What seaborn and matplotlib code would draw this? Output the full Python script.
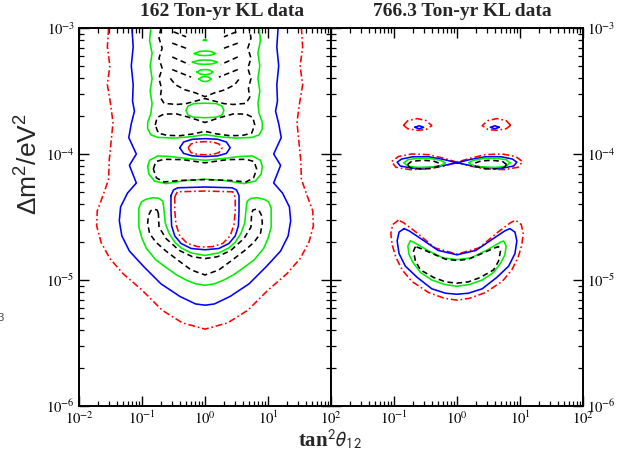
import numpy as np
import matplotlib
matplotlib.use("Agg")
import matplotlib.pyplot as plt
import seaborn as sns
from matplotlib.ticker import LogLocator, FuncFormatter, NullFormatter

# ---------------- data: contour vertices ----------------
# each point is (log10 tan^2(theta12), log10 dm^2 [eV^2])

TITLES = ["162 Ton-yr KL data", "766.3 Ton-yr KL data"]
X_LABEL = r"tan$^2\theta_{12}$"
Y_LABEL = r"$\Delta\mathrm{m}^2/\mathrm{eV}^2$"

# ---- left panel (162 Ton-yr) ----
L_RED_OUTER = [(-1.53, -3.00), (-1.55, -3.15), (-1.51, -3.30), (-1.55, -3.45), (-1.50, -3.60),
               (-1.46, -3.75), (-1.49, -3.90), (-1.52, -4.05), (-1.53, -4.20), (-1.62, -4.33),
               (-1.71, -4.45), (-1.72, -4.57), (-1.65, -4.70), (-1.51, -4.83), (-1.30, -4.95),
               (-1.00, -5.08), (-0.68, -5.24), (-0.36, -5.34), (0.00, -5.39), (0.36, -5.34),
               (0.68, -5.24), (1.00, -5.08), (1.30, -4.95), (1.51, -4.83), (1.65, -4.70),
               (1.72, -4.57), (1.71, -4.45), (1.62, -4.33), (1.53, -4.20), (1.52, -4.05),
               (1.49, -3.90), (1.46, -3.75), (1.50, -3.60), (1.55, -3.45), (1.51, -3.30),
               (1.55, -3.15), (1.53, -3.00)]
L_BLUE_OUTER = [(-1.16, -3.00), (-1.14, -3.15), (-1.17, -3.30), (-1.14, -3.45), (-1.15, -3.58),
                (-1.12, -3.66), (-1.17, -3.76), (-1.21, -3.87), (-1.09, -4.00), (-1.20, -4.09),
                (-1.09, -4.23), (-1.23, -4.31), (-1.34, -4.42), (-1.36, -4.53), (-1.32, -4.65),
                (-1.20, -4.77), (-0.98, -4.89), (-0.70, -5.03), (-0.40, -5.13), (-0.15, -5.19),
                (0.00, -5.20), (0.15, -5.19), (0.40, -5.13), (0.70, -5.03), (0.98, -4.89),
                (1.20, -4.77), (1.32, -4.65), (1.36, -4.53), (1.34, -4.42), (1.23, -4.31),
                (1.09, -4.23), (1.20, -4.09), (1.09, -4.00), (1.21, -3.87), (1.17, -3.76),
                (1.12, -3.66), (1.15, -3.58), (1.14, -3.45), (1.17, -3.30), (1.14, -3.15),
                (1.16, -3.00)]
L_BLUE_SMALL = [(-0.40, -3.95), (-0.34, -3.905), (-0.20, -3.883), (0.00, -3.878), (0.20, -3.883),
                (0.34, -3.905), (0.40, -3.95), (0.34, -3.995), (0.20, -4.015), (0.00, -4.02),
                (-0.20, -4.015), (-0.34, -3.995), (-0.40, -3.95)]
L_RED_SMALL = [(-0.27, -3.952), (-0.22, -3.92), (-0.12, -3.905), (0.00, -3.902), (0.12, -3.905),
               (0.22, -3.92), (0.27, -3.952), (0.22, -3.99), (0.12, -4.003), (0.00, -4.006),
               (-0.12, -4.003), (-0.22, -3.99), (-0.27, -3.952)]
L_BLUE_BIG = [(-0.54, -4.33), (-0.54, -4.45), (-0.53, -4.57), (-0.48, -4.65), (-0.38, -4.71),
              (-0.22, -4.75), (0.00, -4.76), (0.22, -4.75), (0.38, -4.71), (0.48, -4.65),
              (0.53, -4.57), (0.54, -4.45), (0.54, -4.33), (0.50, -4.285), (0.43, -4.268),
              (0.00, -4.262), (-0.43, -4.268), (-0.50, -4.285), (-0.54, -4.33)]
L_RED_BIG = [(-0.48, -4.34), (-0.48, -4.45), (-0.46, -4.56), (-0.40, -4.65), (-0.28, -4.71),
             (-0.12, -4.735), (0.00, -4.738), (0.12, -4.735), (0.28, -4.71), (0.40, -4.65),
             (0.46, -4.56), (0.48, -4.45), (0.48, -4.34), (0.44, -4.30), (0.00, -4.294),
             (-0.44, -4.30), (-0.48, -4.34)]
L_GREEN_OUTER = [(-0.86, -3.00), (-0.88, -3.10), (-0.84, -3.20), (-0.87, -3.30), (-0.84, -3.40),
                 (-0.87, -3.50), (-0.84, -3.60), (-0.86, -3.68), (-0.91, -3.75), (-0.91, -3.80),
                 (-0.86, -3.848), (-0.75, -3.868), (-0.50, -3.874), (-0.25, -3.864), (0.00, -3.847),
                 (0.25, -3.864), (0.50, -3.874), (0.75, -3.868), (0.86, -3.848), (0.91, -3.80),
                 (0.91, -3.75), (0.86, -3.68), (0.84, -3.60), (0.87, -3.50), (0.84, -3.40),
                 (0.87, -3.30), (0.84, -3.20), (0.88, -3.10), (0.86, -3.00)]
L_GREEN_MID = [(-0.30, -3.655), (-0.27, -3.62), (-0.18, -3.60), (0.00, -3.597), (0.18, -3.60),
               (0.27, -3.62), (0.30, -3.655), (0.27, -3.69), (0.18, -3.708), (0.00, -3.712),
               (-0.18, -3.708), (-0.27, -3.69), (-0.30, -3.655)]
L_GREEN_ISL1 = [(-0.025, -3.097), (0.00, -3.093), (0.025, -3.097), (0.00, -3.101), (-0.025, -3.097)]
L_GREEN_ISL2 = [(-0.17, -3.203), (-0.09, -3.186), (0.00, -3.183), (0.09, -3.186), (0.17, -3.203),
                (0.09, -3.216), (0.00, -3.219), (-0.09, -3.216), (-0.17, -3.203)]
L_GREEN_ISL3 = [(-0.20, -3.272), (-0.10, -3.256), (0.00, -3.254), (0.10, -3.256), (0.20, -3.272),
                (0.10, -3.286), (0.00, -3.288), (-0.10, -3.286), (-0.20, -3.272)]
L_GREEN_ISL4 = [(-0.13, -3.35), (-0.07, -3.333), (0.00, -3.33), (0.07, -3.333), (0.13, -3.35),
                (0.07, -3.366), (0.00, -3.37), (-0.07, -3.366), (-0.13, -3.35)]
L_GREEN_ISL5 = [(-0.10, -3.405), (-0.05, -3.389), (0.00, -3.386), (0.05, -3.389), (0.10, -3.405),
                (0.05, -3.421), (0.00, -3.425), (-0.05, -3.421), (-0.10, -3.405)]
L_GREEN_PEANUT = [(-0.91, -4.10), (-0.88, -4.05), (-0.75, -4.015), (-0.55, -4.02), (-0.30, -4.035),
                  (0.00, -4.05), (0.30, -4.035), (0.55, -4.02), (0.75, -4.015), (0.88, -4.05),
                  (0.91, -4.10), (0.89, -4.16), (0.80, -4.215), (0.62, -4.235), (0.30, -4.21),
                  (0.00, -4.20), (-0.30, -4.21), (-0.62, -4.235), (-0.80, -4.215), (-0.89, -4.16),
                  (-0.91, -4.10)]
L_BLACK_PEANUT = [(-0.82, -4.12), (-0.78, -4.06), (-0.65, -4.042), (-0.35, -4.045), (0.00, -4.07),
                  (0.35, -4.045), (0.65, -4.042), (0.78, -4.06), (0.82, -4.12), (0.77, -4.19),
                  (0.65, -4.222), (0.40, -4.21), (0.00, -4.203), (-0.40, -4.21), (-0.65, -4.222),
                  (-0.77, -4.19), (-0.82, -4.12)]
L_GREEN_HORSESHOE = [(-0.66, -4.40), (-0.67, -4.375), (-0.73, -4.352), (-0.83, -4.347), (-0.94, -4.36),
                     (-1.01, -4.38), (-1.05, -4.43), (-1.05, -4.50), (-1.05, -4.58), (-1.00, -4.67),
                     (-0.93, -4.75), (-0.78, -4.84), (-0.62, -4.90), (-0.45, -4.96), (-0.30, -5.00),
                     (-0.15, -5.03), (0.00, -5.042), (0.15, -5.03), (0.30, -5.00), (0.45, -4.96),
                     (0.62, -4.90), (0.78, -4.84), (0.93, -4.75), (1.00, -4.67), (1.05, -4.58),
                     (1.05, -4.50), (1.05, -4.43), (1.01, -4.38), (0.94, -4.36), (0.83, -4.347),
                     (0.73, -4.352), (0.67, -4.375), (0.66, -4.40), (0.65, -4.45), (0.63, -4.55),
                     (0.57, -4.63), (0.48, -4.70), (0.38, -4.745), (0.22, -4.785), (0.00, -4.805),
                     (-0.22, -4.785), (-0.38, -4.745), (-0.48, -4.70), (-0.57, -4.63), (-0.63, -4.55),
                     (-0.65, -4.45), (-0.66, -4.40)]
L_BLACK_HORSESHOE = [(-0.74, -4.47), (-0.76, -4.445), (-0.81, -4.438), (-0.86, -4.45), (-0.90, -4.49),
                     (-0.91, -4.55), (-0.88, -4.63), (-0.78, -4.70), (-0.62, -4.77), (-0.41, -4.85),
                     (-0.22, -4.92), (0.00, -4.96), (0.22, -4.92), (0.41, -4.85), (0.62, -4.77),
                     (0.78, -4.70), (0.88, -4.63), (0.91, -4.55), (0.90, -4.49), (0.86, -4.45),
                     (0.81, -4.438), (0.76, -4.445), (0.74, -4.47), (0.73, -4.58), (0.62, -4.67),
                     (0.41, -4.765), (0.20, -4.815), (0.00, -4.83), (-0.20, -4.815), (-0.41, -4.765),
                     (-0.62, -4.67), (-0.73, -4.58), (-0.74, -4.47)]
L_BLACK_UPPER_U = [(-0.70, -3.00), (-0.73, -3.08), (-0.68, -3.16), (-0.73, -3.24), (-0.68, -3.32),
                   (-0.73, -3.40), (-0.69, -3.48), (-0.71, -3.55), (-0.65, -3.598), (-0.45, -3.607),
                   (-0.30, -3.600), (-0.15, -3.58), (0.00, -3.56), (0.15, -3.58), (0.30, -3.600),
                   (0.45, -3.607), (0.65, -3.598), (0.71, -3.55), (0.69, -3.48), (0.73, -3.40),
                   (0.68, -3.32), (0.73, -3.24), (0.68, -3.16), (0.73, -3.08), (0.70, -3.00)]
L_BLACK_BOWL = [(-0.55, -3.40), (-0.47, -3.45), (-0.32, -3.49), (-0.15, -3.515), (0.00, -3.545),
                (0.15, -3.515), (0.32, -3.49), (0.47, -3.45), (0.55, -3.40)]
L_BLACK_DIAG_L = [[(-0.50, -3.03), (-0.30, -3.07)], [(-0.52, -3.12), (-0.25, -3.17)],
                  [(-0.52, -3.23), (-0.25, -3.29)], [(-0.52, -3.33), (-0.22, -3.39)]]
L_BLACK_DIAG_R = [[(0.50, -3.03), (0.30, -3.07)], [(0.52, -3.12), (0.25, -3.17)],
                  [(0.52, -3.23), (0.25, -3.29)], [(0.52, -3.33), (0.22, -3.39)]]
L_BLACK_MIDPEANUT = [(-0.79, -3.77), (-0.76, -3.71), (-0.65, -3.683), (-0.45, -3.682), (-0.28, -3.705),
                     (-0.15, -3.725), (0.00, -3.75), (0.15, -3.725), (0.28, -3.705), (0.45, -3.682),
                     (0.65, -3.683), (0.76, -3.71), (0.79, -3.77), (0.74, -3.835), (0.60, -3.852),
                     (0.40, -3.855), (0.18, -3.84), (0.00, -3.82), (-0.18, -3.84), (-0.40, -3.855),
                     (-0.60, -3.852), (-0.74, -3.835), (-0.79, -3.77)]

# ---- right panel (766.3 Ton-yr) ----
R_RED_ISL_L = [(-0.85, -3.772), (-0.78, -3.735), (-0.63, -3.719), (-0.49, -3.735), (-0.40, -3.775),
               (-0.49, -3.805), (-0.62, -3.812), (-0.78, -3.80), (-0.85, -3.772)]
R_RED_ISL_R = [(0.85, -3.772), (0.78, -3.735), (0.63, -3.719), (0.49, -3.735), (0.40, -3.775),
               (0.49, -3.805), (0.62, -3.812), (0.78, -3.80), (0.85, -3.772)]
R_BLUE_ISL_L = [(-0.67, -3.788), (-0.60, -3.776), (-0.53, -3.788), (-0.60, -3.80), (-0.67, -3.788)]
R_BLUE_ISL_R = [(0.67, -3.788), (0.60, -3.776), (0.53, -3.788), (0.60, -3.80), (0.67, -3.788)]
R_BLUE_FIG8 = [(0.00, -4.07), (-0.20, -4.045), (-0.45, -4.022), (-0.70, -4.022), (-0.88, -4.04),
               (-0.95, -4.065), (-0.90, -4.095), (-0.72, -4.112), (-0.45, -4.108), (-0.20, -4.09),
               (0.00, -4.07), (0.20, -4.045), (0.45, -4.022), (0.70, -4.022), (0.88, -4.04),
               (0.95, -4.065), (0.90, -4.095), (0.72, -4.112), (0.45, -4.108), (0.20, -4.09),
               (0.00, -4.07)]
R_RED_FIG8 = [(0.00, -4.065), (-0.20, -4.035), (-0.45, -4.005), (-0.72, -4.00), (-0.93, -4.02),
              (-1.04, -4.06), (-0.97, -4.105), (-0.75, -4.124), (-0.45, -4.118), (-0.20, -4.095),
              (0.00, -4.065), (0.20, -4.035), (0.45, -4.005), (0.72, -4.00), (0.93, -4.02),
              (1.04, -4.06), (0.97, -4.105), (0.75, -4.124), (0.45, -4.118), (0.20, -4.095),
              (0.00, -4.065)]
R_GREEN_LOBE_L = [(-0.84, -4.07), (-0.78, -4.045), (-0.62, -4.034), (-0.42, -4.036), (-0.26, -4.05),
                  (-0.185, -4.07), (-0.26, -4.092), (-0.42, -4.104), (-0.62, -4.106), (-0.78, -4.097),
                  (-0.84, -4.07)]
R_GREEN_LOBE_R = [(0.84, -4.07), (0.78, -4.045), (0.62, -4.034), (0.42, -4.036), (0.26, -4.05),
                  (0.185, -4.07), (0.26, -4.092), (0.42, -4.104), (0.62, -4.106), (0.78, -4.097),
                  (0.84, -4.07)]
R_BLACK_LOBE_L = [(-0.79, -4.085), (-0.72, -4.058), (-0.55, -4.05), (-0.38, -4.055), (-0.27, -4.075),
                  (-0.30, -4.10), (-0.45, -4.116), (-0.62, -4.118), (-0.75, -4.106), (-0.79, -4.085)]
R_BLACK_LOBE_R = [(0.79, -4.085), (0.72, -4.058), (0.55, -4.05), (0.38, -4.055), (0.27, -4.075),
                  (0.30, -4.10), (0.45, -4.116), (0.62, -4.118), (0.75, -4.106), (0.79, -4.085)]
R_RED_BANANA = [(-0.93, -4.525), (-1.02, -4.56), (-1.05, -4.63), (-1.03, -4.72), (-0.97, -4.82),
                (-0.87, -4.92), (-0.72, -5.01), (-0.45, -5.10), (-0.20, -5.145), (0.00, -5.16),
                (0.20, -5.145), (0.45, -5.10), (0.72, -5.01), (0.87, -4.92), (0.97, -4.82),
                (1.03, -4.72), (1.05, -4.63), (1.02, -4.56), (0.93, -4.525), (0.85, -4.545),
                (0.65, -4.62), (0.35, -4.745), (0.00, -4.795), (-0.35, -4.745), (-0.65, -4.62),
                (-0.85, -4.545), (-0.93, -4.525)]
R_BLUE_BANANA = [(-0.84, -4.592), (-0.92, -4.62), (-0.95, -4.69), (-0.92, -4.79), (-0.82, -4.89),
                 (-0.63, -4.98), (-0.40, -5.07), (-0.18, -5.105), (0.00, -5.113), (0.18, -5.105),
                 (0.40, -5.07), (0.63, -4.98), (0.82, -4.89), (0.92, -4.79), (0.95, -4.69),
                 (0.92, -4.62), (0.84, -4.592), (0.76, -4.61), (0.55, -4.68), (0.30, -4.765),
                 (0.00, -4.80), (-0.30, -4.765), (-0.55, -4.68), (-0.76, -4.61), (-0.84, -4.592)]
R_GREEN_BANANA = [(-0.74, -4.69), (-0.78, -4.73), (-0.76, -4.80), (-0.70, -4.86), (-0.58, -4.94),
                  (-0.40, -5.00), (-0.20, -5.035), (0.00, -5.05), (0.20, -5.035), (0.40, -5.00),
                  (0.58, -4.94), (0.70, -4.86), (0.76, -4.80), (0.78, -4.73), (0.74, -4.69),
                  (0.69, -4.70), (0.47, -4.764), (0.22, -4.825), (0.00, -4.838), (-0.22, -4.825),
                  (-0.47, -4.764), (-0.69, -4.70), (-0.74, -4.69)]
R_BLACK_BANANA = [(-0.66, -4.735), (-0.69, -4.77), (-0.66, -4.85), (-0.58, -4.92), (-0.37, -4.98),
                  (-0.18, -5.015), (0.00, -5.025), (0.18, -5.015), (0.37, -4.98), (0.58, -4.92),
                  (0.66, -4.85), (0.69, -4.77), (0.66, -4.735), (0.60, -4.745), (0.37, -4.795),
                  (0.18, -4.835), (0.00, -4.845), (-0.18, -4.835), (-0.37, -4.795), (-0.60, -4.745),
                  (-0.66, -4.735)]

# ---------------- styling ----------------
sns.set_style("ticks")
plt.rcParams.update({
    "mathtext.fontset": "stix",
    "mathtext.rm": "Liberation Sans",
    "mathtext.it": "Liberation Sans:italic",
    "mathtext.bf": "Liberation Sans:bold",
    "lines.scale_dashes": False,
    "axes.edgecolor": "black",
    "xtick.color": "black",
    "ytick.color": "black",
})
plt.rcParams["font.family"] = ["Liberation Serif", "DejaVu Serif"]

RED, BLUE, GREEN, BLACK = "#ff0000", "#0000ff", "#00ee00", "#000000"
LS_RED = (0, (5.0, 2.0, 1.2, 2.0))
LS_BLACK = (0, (4.0, 2.6))
LS_SOLID = "-"
LW = 1.15

fig = plt.figure(figsize=(6.36, 4.59), dpi=100)
W, H = 636.0, 459.0
ax1 = fig.add_axes([79 / W, 1 - 406 / H, 252 / W, 378 / H])
ax2 = fig.add_axes([331 / W, 1 - 406 / H, 252 / W, 378 / H])


def draw(ax, pts, color, ls):
    u = np.array([p[0] for p in pts])
    v = np.array([p[1] for p in pts])
    sns.lineplot(x=10.0 ** u, y=10.0 ** v, sort=False, estimator=None, ax=ax,
                 color=color, linewidth=LW, linestyle=ls, legend=False)


for ax in (ax1, ax2):
    ax.set_xscale("log")
    ax.set_yscale("log")

# left panel
draw(ax1, L_RED_OUTER, RED, LS_RED)
draw(ax1, L_BLUE_OUTER, BLUE, LS_SOLID)
draw(ax1, L_GREEN_OUTER, GREEN, LS_SOLID)
draw(ax1, L_BLACK_UPPER_U, BLACK, LS_BLACK)
draw(ax1, L_BLACK_BOWL, BLACK, LS_BLACK)
for seg in L_BLACK_DIAG_L + L_BLACK_DIAG_R:
    draw(ax1, seg, BLACK, LS_BLACK)
for isl in (L_GREEN_ISL1, L_GREEN_ISL2, L_GREEN_ISL3, L_GREEN_ISL4, L_GREEN_ISL5):
    draw(ax1, isl, GREEN, LS_SOLID)
draw(ax1, L_GREEN_MID, GREEN, LS_SOLID)
draw(ax1, L_BLACK_MIDPEANUT, BLACK, LS_BLACK)
draw(ax1, L_BLUE_SMALL, BLUE, LS_SOLID)
draw(ax1, L_RED_SMALL, RED, LS_RED)
draw(ax1, L_GREEN_PEANUT, GREEN, LS_SOLID)
draw(ax1, L_BLACK_PEANUT, BLACK, LS_BLACK)
draw(ax1, L_BLUE_BIG, BLUE, LS_SOLID)
draw(ax1, L_RED_BIG, RED, LS_RED)
draw(ax1, L_GREEN_HORSESHOE, GREEN, LS_SOLID)
draw(ax1, L_BLACK_HORSESHOE, BLACK, LS_BLACK)

# right panel
draw(ax2, R_RED_ISL_L, RED, LS_RED)
draw(ax2, R_RED_ISL_R, RED, LS_RED)
draw(ax2, R_BLUE_ISL_L, BLUE, LS_SOLID)
draw(ax2, R_BLUE_ISL_R, BLUE, LS_SOLID)
draw(ax2, R_RED_FIG8, RED, LS_RED)
draw(ax2, R_BLUE_FIG8, BLUE, LS_SOLID)
draw(ax2, R_GREEN_LOBE_L, GREEN, LS_SOLID)
draw(ax2, R_GREEN_LOBE_R, GREEN, LS_SOLID)
draw(ax2, R_BLACK_LOBE_L, BLACK, LS_BLACK)
draw(ax2, R_BLACK_LOBE_R, BLACK, LS_BLACK)
draw(ax2, R_RED_BANANA, RED, LS_RED)
draw(ax2, R_BLUE_BANANA, BLUE, LS_SOLID)
draw(ax2, R_GREEN_BANANA, GREEN, LS_SOLID)
draw(ax2, R_BLACK_BANANA, BLACK, LS_BLACK)


def pow_fmt(val, pos):
    e = int(round(np.log10(val)))
    return r"$10^{%d}$" % e


def pow_fmt_skip(val, pos):
    e = int(round(np.log10(val)))
    return "" if e == -2 else r"$10^{%d}$" % e


for ax in (ax1, ax2):
    ax.set_xlim(1e-2, 1e2)
    ax.set_ylim(1e-6, 1e-3)
    ax.xaxis.set_major_locator(LogLocator(base=10, numticks=10))
    ax.yaxis.set_major_locator(LogLocator(base=10, numticks=10))
    ax.xaxis.set_minor_locator(LogLocator(base=10, subs=np.arange(2, 10), numticks=20))
    ax.yaxis.set_minor_locator(LogLocator(base=10, subs=np.arange(2, 10), numticks=20))
    ax.xaxis.set_minor_formatter(NullFormatter())
    ax.yaxis.set_minor_formatter(NullFormatter())
    ax.tick_params(which="major", direction="in", length=7, width=1.0, top=True, right=True,
                   labelsize=10.5, pad=3)
    ax.tick_params(which="minor", direction="in", length=3.5, width=0.9, top=True, right=True)
    ax.set_xlabel("")
    ax.set_ylabel("")
    for s in ax.spines.values():
        s.set_linewidth(1.4)
        s.set_color("black")

ax1.xaxis.set_major_formatter(FuncFormatter(pow_fmt))
ax1.yaxis.set_major_formatter(FuncFormatter(pow_fmt))
ax2.xaxis.set_major_formatter(FuncFormatter(pow_fmt_skip))
ax2.yaxis.set_major_formatter(FuncFormatter(pow_fmt))
ax1.tick_params(labelleft=True, labelright=False)
ax2.tick_params(labelleft=False, labelright=True)

# titles and axis labels
fig.text(222 / W, 1 - 16 / H, TITLES[0], ha="center", va="baseline", fontsize=14,
         fontweight="bold", family=["Liberation Serif"])
fig.text(462 / W, 1 - 16 / H, TITLES[1], ha="center", va="baseline", fontsize=14,
         fontweight="bold", family=["Liberation Serif"])
fig.text(330 / W, 1 - 447 / H, X_LABEL, ha="center", va="baseline", fontsize=15,
         fontweight="bold", family=["Liberation Serif"], math_fontfamily="stixsans")
fig.text(29 / W, 1 - 164 / H, Y_LABEL, ha="center", va="center", rotation=90, fontsize=19,
         family=["Liberation Sans"], math_fontfamily="custom")
fig.text(1 / W, 1 - 318 / H, "3", ha="center", va="center", fontsize=8, color="#444444",
         family=["Liberation Sans"])

fig.savefig("out.png", dpi=100)
